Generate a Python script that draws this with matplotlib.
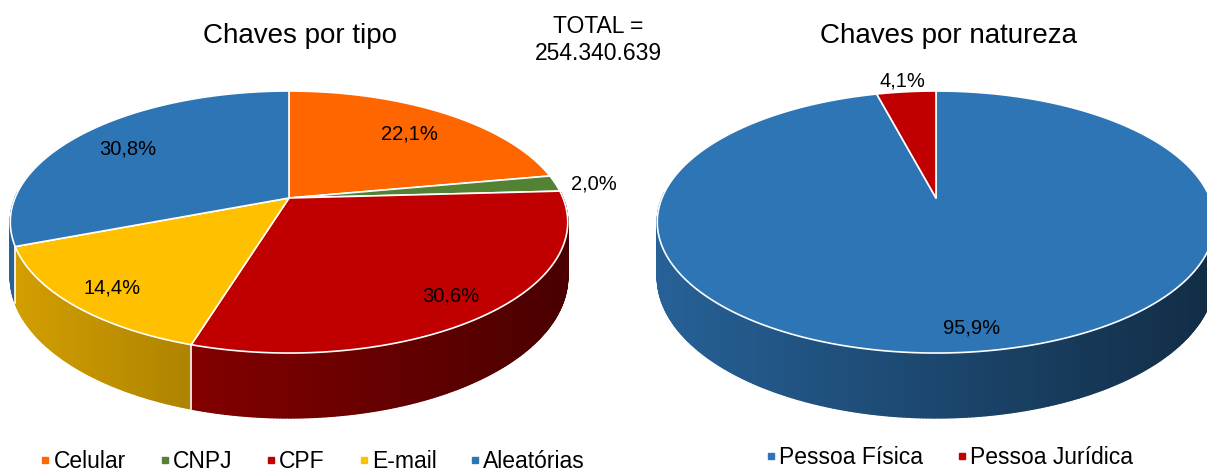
import numpy as np
import matplotlib
matplotlib.use('Agg')
import matplotlib.pyplot as plt
from matplotlib.patches import Polygon
from matplotlib.collections import PolyCollection
from matplotlib.lines import Line2D
from matplotlib.colors import to_rgb

plt.rcParams['font.family'] = ['Liberation Sans', 'DejaVu Sans']

# data
tipo_labels = ['Celular', 'CNPJ', 'CPF', 'E-mail', 'Aleatórias']
tipo_values = [22.1, 2.0, 30.6, 14.4, 30.8]
tipo_colors = ['#ff6600', '#548235', '#c00000', '#ffc000', '#2e75b6']

natureza_labels = ['Pessoa Física', 'Pessoa Jurídica']
natureza_values = [95.9, 4.1]
natureza_colors = ['#2e75b6', '#c00000']

total_keys = '254.340.639'

# 3d pie look (pixel units, perspective from the front and above)
R = 274      # radius
A = 126.6    # vertical squash of the top face
B = 0.1834   # perspective strength
C = 53       # thickness of the pie


def project(cx, cy, theta, r=1.0, h=1.0):
    # theta clockwise from 12 o'clock, h=1 top face, h=0 bottom face
    u = r * np.sin(theta)
    v = r * np.cos(theta)
    w = 1 + B * v
    return cx + R * u / w, cy + (-A * v + C * (1 - h)) / w


def shade(color, x, cx):
    xmin = cx - 1.0177 * R
    f = 0.83 - 0.45 * (x - xmin) / (2 * 1.0177 * R)
    f = min(max(f, 0.3), 0.9)
    return tuple(np.array(to_rgb(color)) * f)


def draw_pie(ax, cx, cy, values, colors):
    fracs = np.array(values) / np.sum(values)
    edges = np.concatenate([[0], np.cumsum(fracs)]) * 2 * np.pi

    # side wall, back to front
    quads = []
    for i in range(len(values)):
        n = max(int((edges[i + 1] - edges[i]) / np.radians(0.5)), 2)
        t = np.linspace(edges[i], edges[i + 1], n + 1)
        for t0, t1 in zip(t[:-1], t[1:]):
            tm = (t0 + t1) / 2
            if np.cos(tm) > 0.05:
                continue
            x0, y0 = project(cx, cy, t0)
            x1, y1 = project(cx, cy, t1)
            x2, y2 = project(cx, cy, t1, h=0)
            x3, y3 = project(cx, cy, t0, h=0)
            col = shade(colors[i], (x0 + x1) / 2, cx)
            quads.append((np.cos(tm), [(x0, y0), (x1, y1), (x2, y2), (x3, y3)], col))
    quads.sort(key=lambda q: -q[0])
    pc = PolyCollection([q[1] for q in quads], facecolors=[q[2] for q in quads],
                        edgecolors=[q[2] for q in quads], linewidths=1.0, zorder=1)
    ax.add_collection(pc)

    # white seams on the side between slices
    for e in edges[:-1]:
        if np.cos(e) < -B:
            xt, yt = project(cx, cy, e)
            xb, yb = project(cx, cy, e, h=0)
            ax.plot([xt, xb], [yt, yb], color='white', lw=1.2, zorder=1.5)

    # top face
    for i in range(len(values)):
        n = max(int((edges[i + 1] - edges[i]) / np.radians(0.5)), 2)
        t = np.linspace(edges[i], edges[i + 1], n + 1)
        xs, ys = project(cx, cy, t)
        pts = [(cx, cy)] + list(zip(xs, ys))
        ax.add_patch(Polygon(pts, closed=True, facecolor=colors[i], edgecolor='white',
                             lw=1.2, joinstyle='round', zorder=2))

    # percentage labels
    for i in range(len(values)):
        mid = (edges[i] + edges[i + 1]) / 2
        if fracs[i] < 0.05:
            r = 1.15
        else:
            r = 0.8 - 0.055 * np.cos(mid)
        lx, ly = project(cx, cy, mid, r=r)
        txt = f'{values[i]:.1f}'.replace('.', ',') + '%'
        ax.text(lx, ly + 8, txt, ha='center', va='baseline', fontsize=14.5,
                color='black', zorder=3)


fig = plt.figure(figsize=(12.07, 4.75), dpi=100)
ax = fig.add_axes([0, 0, 1, 1])
ax.set_xlim(0, 1207)
ax.set_ylim(475, 0)
ax.axis('off')

draw_pie(ax, 289, 198, tipo_values, tipo_colors)
draw_pie(ax, 936, 198, natureza_values, natureza_colors)

ax.text(300, 43, 'Chaves por tipo', ha='center', va='baseline', fontsize=20)
ax.text(948, 43, 'Chaves por natureza', ha='center', va='baseline', fontsize=20)
ax.text(598, 33, 'TOTAL =', ha='center', va='baseline', fontsize=16.5)
ax.text(598, 60, total_keys, ha='center', va='baseline', fontsize=16.5)

# legends below each pie
h1 = [Line2D([], [], marker='s', ls='', color=c, markersize=5) for c in tipo_colors]
fig.legend(h1, tipo_labels, loc='center', bbox_to_anchor=(313 / 1207, 13 / 475), ncol=5,
           frameon=False, fontsize=16.5, handlelength=0.4, handletextpad=0.15,
           columnspacing=1.5, borderpad=0, borderaxespad=0)
h2 = [Line2D([], [], marker='s', ls='', color=c, markersize=5) for c in natureza_colors]
fig.legend(h2, natureza_labels, loc='center', bbox_to_anchor=(950 / 1207, 17 / 475), ncol=2,
           frameon=False, fontsize=16.5, handlelength=0.4, handletextpad=0.15,
           columnspacing=1.5, borderpad=0, borderaxespad=0)

fig.savefig('out.png', dpi=100)
